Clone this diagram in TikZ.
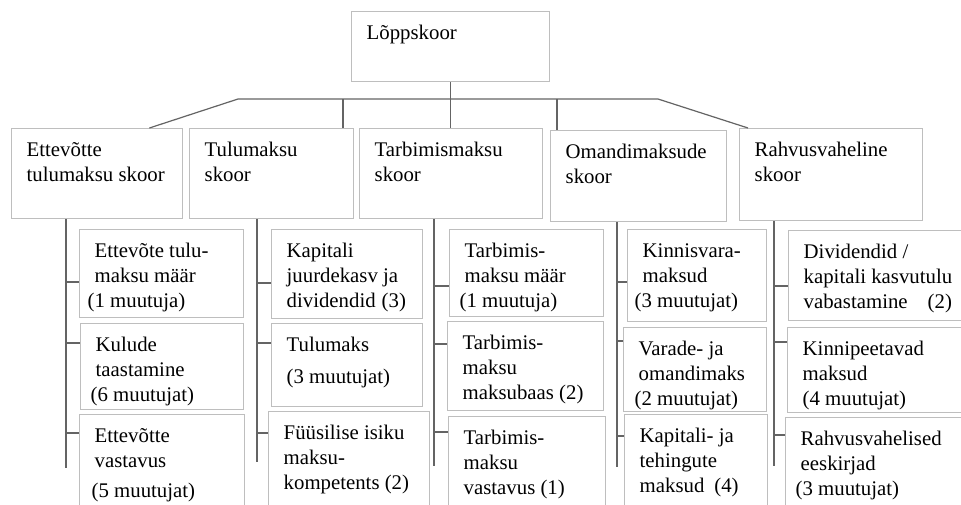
\documentclass[tikz,border=0pt]{standalone}
\usepackage{fontspec}
\setmainfont{Liberation Serif}
\definecolor{boxgray}{RGB}{190,190,190}
\definecolor{linegray}{RGB}{100,100,100}
\newcommand{\cell}[3]{\parbox[t][\dimexpr #2pt-20pt\relax][t]{\dimexpr #1pt-30pt\relax}{\raggedright\strut #3}}
\tikzstyle{box} = [draw=boxgray,line width=1.4pt,anchor=north west,inner xsep=15pt,inner ysep=10pt,font=\fontsize{20.8}{25}\selectfont]
\tikzstyle{link} = [draw=linegray,line width=1.2pt]

\begin{document}
\begin{tikzpicture}[x=1pt,y=-1pt]
	\clip (0,0) rectangle (961,504);
	\fill [white] (0,0) rectangle (961,504);
	\node (top) [box] at (351,11) {\cell{198}{70}{Lõppskoor}};
	\node (ett) [box] at (11,128) {\cell{171}{90}{Ettevõtte\\tulumaksu skoor}};
	\node (tulu) [box] at (189,128) {\cell{164}{90}{Tulumaksu\\skoor}};
	\node (tarb) [box] at (359,128) {\cell{183}{90}{Tarbimismaksu\\skoor}};
	\node (oman) [box] at (550,130) {\cell{176}{91}{Omandimaksude\\skoor}};
	\node (rahv) [box] at (739,128) {\cell{183}{92}{Rahvusvaheline\\skoor}};
	\node (l11) [box] at (79,229) {\cell{164}{88}{Ettevõte tulu-\\maksu määr\\\hspace*{-7pt}(1 muutuja)}};
	\node (l12) [box] at (80,323) {\cell{163}{86}{Kulude\\taastamine\\\hspace*{-5pt}(6 muutujat)}};
	\node (l13) [box] at (79,414) {\cell{165}{100}{Ettevõtte\\vastavus\\[5pt]\hspace*{-3pt}(5 muutujat)}};
	\node (l21) [box] at (271,229) {\cell{151}{89}{Kapitali\\juurdekasv ja\\dividendid\hspace{6pt}(3)}};
	\node (l22) [box] at (271,323) {\cell{151}{83}{Tulumaks\\[7pt](3 muutujat)}};
	\node (l23) [box] at (268,411) {\cell{161}{100}{Füüsilise isiku\\maksu-\\kompetents (2)}};
	\node (l31) [box] at (449,229) {\cell{154}{87}{Tarbimis-\\maksu määr\\\hspace*{-5pt}(1 muutuja)}};
	\node (l32) [box] at (447,321) {\cell{156}{89}{Tarbimis-\\maksu\\maksubaas (2)}};
	\node (l33) [box] at (448,416) {\cell{157}{100}{Tarbimis-\\maksu\\vastavus (1)}};
	\node (l41) [box] at (627,229) {\cell{139}{92}{Kinnisvara-\\maksud\\\hspace*{-8pt}(3 muutujat)}};
	\node (l42) [box] at (623,327) {\cell{143}{84}{Varade- ja\\omandimaks\\\hspace*{-4pt}(2 muutujat)}};
	\node (l43) [box] at (624,414) {\cell{143}{100}{Kapitali- ja\\tehingute\\maksud\hspace{10pt}(4)}};
	\node (l51) [box] at (788,230) {\cell{182}{90}{Dividendid /\\kapitali kasvutulu\\vabastamine\hspace{20pt}(2)}};
	\node (l52) [box] at (787,327) {\cell{182}{85}{Kinnipeetavad\\maksud\\(4 muutujat)}};
	\node (l53) [box] at (785,417) {\cell{182}{100}{Rahvusvahelised\\eeskirjad\\\hspace*{-5pt}(3 muutujat)}};
	\coordinate (busl) at (238,99);
	\coordinate (busr) at (658,99);
	\coordinate (d2) at (343,99);
	\coordinate (d4) at (557,99);
	\draw [link] ([xshift=-34pt]ett.north east) -- (busl) -- (busr) -- ([xshift=9pt]rahv.north west);
	\draw [link] (top.south) -- (top.south |- tarb.north);
	\draw [link] (d2) -- (d2 |- tulu.north);
	\draw [link] (d4) -- (d4 |- oman.north);
	\coordinate (t1) at (66,468);
	\coordinate (t2) at (257,462);
	\coordinate (t3) at (434,466);
	\coordinate (t4) at (617,467);
	\coordinate (t5) at (774,466);
	\draw [link] (t1 |- ett.south) -- (t1);
	\draw [link] (t2 |- tulu.south) -- (t2);
	\draw [link] (t3 |- tarb.south) -- (t3);
	\draw [link] (t4 |- oman.south) -- (t4);
	\draw [link] (t5 |- rahv.south) -- (t5);
	\draw [link] (t1 |- 0,282) -- (l11.west |- 0,282);
	\draw [link] (t1 |- 0,343) -- (l12.west |- 0,343);
	\draw [link] (t1 |- 0,433) -- (l13.west |- 0,433);
	\draw [link] (t2 |- 0,283) -- (l21.west |- 0,283);
	\draw [link] (t2 |- 0,343) -- (l22.west |- 0,343);
	\draw [link] (t2 |- 0,433) -- (l23.west |- 0,433);
	\draw [link] (t3 |- 0,286) -- (l31.west |- 0,286);
	\draw [link] (t3 |- 0,344) -- (l32.west |- 0,344);
	\draw [link] (t3 |- 0,432) -- (l33.west |- 0,432);
	\draw [link] (t4 |- 0,282) -- (l41.west |- 0,282);
	\draw [link] (t4 |- 0,341) -- (l42.west |- 0,341);
	\draw [link] (t4 |- 0,436) -- (l43.west |- 0,436);
	\draw [link] (t5 |- 0,286) -- (l51.west |- 0,286);
	\draw [link] (t5 |- 0,342) -- (l52.west |- 0,342);
	\draw [link] (t5 |- 0,435) -- (l53.west |- 0,435);
\end{tikzpicture}
\end{document}
